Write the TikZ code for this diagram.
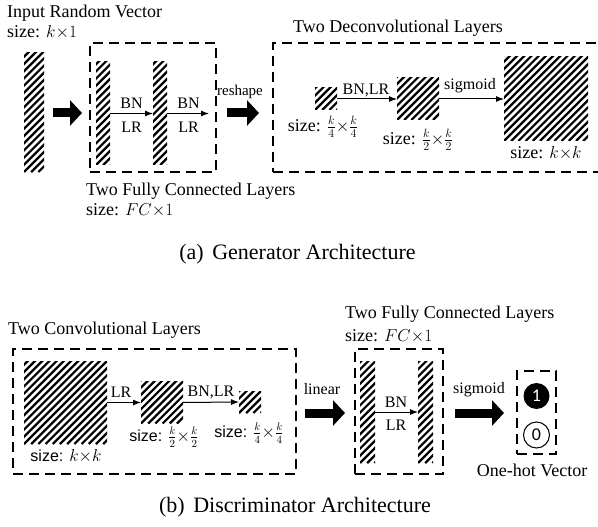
\documentclass[tikz,border=0pt]{standalone}
\usepackage{fontspec}
\setmainfont{Liberation Serif}
\setsansfont{Liberation Sans}
\newfontfamily\digitfont{Carlito}
\usetikzlibrary{arrows.meta}
\tikzset{
  hatch/.style={inner sep=0pt, outer sep=0pt, path picture={
    \foreach \i in {-22,...,16}
      \draw[line width=2.2pt] ([xshift=\i*7.2pt]path picture bounding box.south west) -- ++(200pt,200pt);
  }},
  dbox/.style={draw, line width=2.5pt, dash pattern=on 10pt off 6pt, inner sep=0pt},
  thinarrow/.style={line width=1pt, -{Latex[length=8pt,width=6pt]}},
  bigarrow/.style={line width=9pt, -{Triangle[length=12pt,width=25pt]}},
  hd/.style={font=\fontsize{18}{21}\selectfont, inner sep=0pt},
  lbl/.style={font=\fontsize{16}{19}\selectfont, inner sep=0pt},
  sslbl/.style={font=\sffamily\fontsize{16}{19}\selectfont, inner sep=0pt},
  captext/.style={font=\fontsize{22}{25}\selectfont, inner sep=0pt},
}
\begin{document}
\begin{tikzpicture}[x=1pt,y=-1pt]
\useasboundingbox (0,0) rectangle (598,527);
\clip (0,0) rectangle (598,527);

% ---------------- Generator ----------------
\node[hd, anchor=base west] (tin) at (7,18) {Input Random Vector};
\node[hd, anchor=base west] (tins) at (7,38) {size: $k{\times}1$};
\node[hatch, minimum width=20pt, minimum height=119pt] (inv) at (34,112.5) {};

\coordinate (ba1s) at (53,113);
\coordinate (ba1e) at (82,113);
\draw[bigarrow] (ba1s) -- (ba1e);

\node[dbox, minimum width=126pt, minimum height=129pt] (fcbox) at (153,107.5) {};
\node[hatch, minimum width=14pt, minimum height=103pt] (fc1) at (103,113.5) {};
\node[hatch, minimum width=14pt, minimum height=103pt] (fc2) at (160,113.5) {};
\draw[thinarrow] (fc1.east) -- (fc2.west);
\coordinate (fcend) at (209,113.5);
\draw[thinarrow] (fc2.east) -- (fcend);
\node[lbl] (bn1) at (131.5,103) {BN};
\node[lbl] (lr1) at (131.5,127) {LR};
\node[lbl] (bn2) at (188.5,103) {BN};
\node[lbl] (lr2) at (188.5,127) {LR};

\node[hd, anchor=base west] (tfc) at (86,195) {Two Fully Connected Layers};
\node[hd, anchor=base west] (tfcs) at (86,215) {size: $FC{\times}1$};

\node[font=\fontsize{15}{18}\selectfont, inner sep=0pt] (resh) at (240,92) {reshape};
\coordinate (ba2s) at (227,113);
\coordinate (ba2e) at (259,113);
\draw[bigarrow] (ba2s) -- (ba2e);

\node[hd, anchor=base west] (tdc) at (293,33) {Two Deconvolutional Layers};
\node[dbox, minimum width=337pt, minimum height=129pt] (dcbox) at (441.5,107.5) {};
\node[hatch, minimum width=22pt, minimum height=22pt] (s1) at (326,99) {};
\node[hatch, minimum width=42pt, minimum height=42pt] (m1) at (418,99) {};
\node[hatch, minimum width=84pt, minimum height=84pt] (l1) at (546,99) {};
\draw[thinarrow] (s1.east) -- (m1.west);
\draw[thinarrow] (m1.east) -- (l1.west);
\node[lbl] (bnlr1) at (366,90) {BN,LR};
\node[lbl] (sig1) at (470,86) {sigmoid};
\node[hd] (sz1) at (323,127) {size: $\frac{k}{4}{\times}\frac{k}{4}$};
\node[hd] (sz2) at (418,140) {size: $\frac{k}{2}{\times}\frac{k}{2}$};
\node[hd] (sz3) at (546,153) {size: $k{\times}k$};

\node[captext, anchor=base] (capa) at (297.5,259) {(a)\hspace{3pt} Generator Architecture};

% ---------------- Discriminator ----------------
\node[hd, anchor=base west] (tcv) at (8,334) {Two Convolutional Layers};
\node[dbox, minimum width=283pt, minimum height=125pt] (cvbox) at (154.5,411.5) {};
\node[hatch, minimum width=83pt, minimum height=83pt] (L2) at (65.5,402.5) {};
\node[hatch, minimum width=42pt, minimum height=42pt] (M2) at (162,402.5) {};
\node[hatch, minimum width=22pt, minimum height=22pt] (S2) at (250,402) {};
\draw[thinarrow] (L2.east) -- (M2.west);
\draw[thinarrow] (M2.east) -- (S2.west);
\node[lbl] (lr3) at (121,392) {LR};
\node[lbl] (bnlr2) at (211,392) {BN,LR};
\node[sslbl] (sz4) at (66,456) {size: $k{\times}k$};
\node[sslbl] (sz5) at (164,437) {size: $\frac{k}{2}{\times}\frac{k}{2}$};
\node[sslbl] (sz6) at (249,433) {size: $\frac{k}{4}{\times}\frac{k}{4}$};

\node[lbl] (lin) at (322,389) {linear};
\coordinate (ba3s) at (305,413);
\coordinate (ba3e) at (345,413);
\draw[bigarrow] (ba3s) -- (ba3e);

\node[hd, anchor=base west] (tfc2) at (345,318) {Two Fully Connected Layers};
\node[hd, anchor=base west] (tfc2s) at (345,341) {size: $FC{\times}1$};
\node[dbox, minimum width=88pt, minimum height=125pt] (fc2box) at (399,411.5) {};
\node[hatch, minimum width=15pt, minimum height=102pt] (b1) at (367.5,412) {};
\node[hatch, minimum width=15pt, minimum height=102pt] (b2) at (425.5,412) {};
\draw[thinarrow] (b1.east) -- (b2.west);
\node[lbl] (bn3) at (396,402) {BN};
\node[lbl] (lr4) at (396,425) {LR};

\node[lbl] (sig2) at (479,390) {sigmoid};
\coordinate (ba4s) at (455,413);
\coordinate (ba4e) at (504,413);
\draw[bigarrow] (ba4s) -- (ba4e);

\node[dbox, minimum width=39pt, minimum height=83pt] (ohbox) at (536.5,412.5) {};
\node[circle, fill=black, minimum size=26pt, inner sep=0pt, text=white, font=\digitfont\fontsize{18}{20}\selectfont] (c1) at (536.5,396) {1};
\node[circle, draw, line width=1pt, minimum size=26pt, inner sep=0pt, font=\digitfont\fontsize{18}{20}\selectfont] (c0) at (536.5,435) {0};
\node[hd] (toh) at (532,470) {One-hot Vector};

\node[captext, anchor=base] (capb) at (295,512) {(b)\hspace{3pt} Discriminator Architecture};
\end{tikzpicture}
\end{document}
